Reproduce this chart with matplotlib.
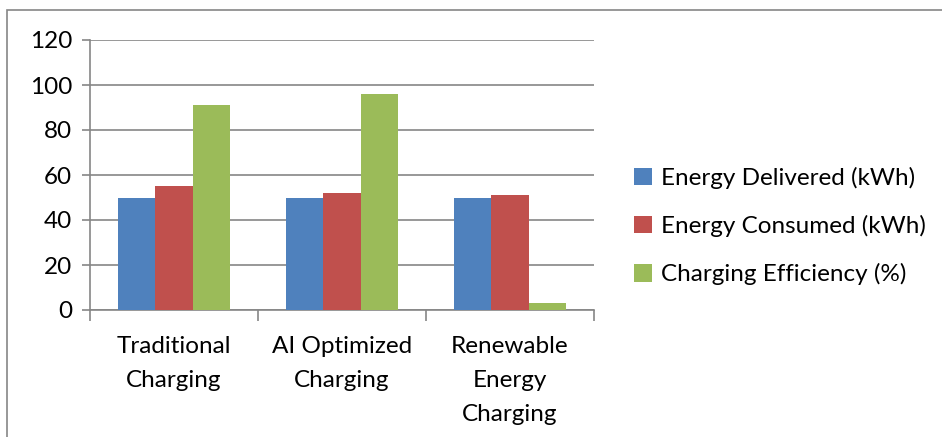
import numpy as np
import matplotlib.pyplot as plt
from matplotlib.patches import Rectangle

# data
categories = ["Traditional\nCharging", "AI Optimized\nCharging", "Renewable\nEnergy\nCharging"]
series_names = ["Energy Delivered (kWh)", "Energy Consumed (kWh)", "Charging Efficiency (%)"]
energy_delivered = [50, 50, 50]
energy_consumed = [55, 52, 51]
charging_efficiency = [91, 96, 3]
yticks = [0, 20, 40, 60, 80, 100, 120]

colors = ["#4F81BD", "#C0504D", "#9BBB59"]
grid_col = "#868686"

plt.rcParams['font.family'] = ['Lato', 'DejaVu Sans']

fig = plt.figure(figsize=(9.42, 4.37), dpi=100)
ax = fig.add_axes([90 / 942, 1 - 310 / 437, (594 - 90) / 942, 270 / 437])

# chart border (cut by the picture at right and bottom)
fig.patches.append(Rectangle((7 / 942, -0.2), 1.2, 1.2 - 10 / 437,
                             transform=fig.transFigure, fill=False,
                             edgecolor=grid_col, linewidth=1.2))

x = np.arange(len(categories))
w = 1 / 4.5
for i, vals in enumerate([energy_delivered, energy_consumed, charging_efficiency]):
    ax.bar(x + (i - 1) * w, vals, width=w, color=colors[i], label=series_names[i], zorder=3)

ax.set_xlim(-0.5, len(categories) - 0.5)
ax.set_ylim(0, 120)
ax.set_yticks(yticks)
ax.yaxis.grid(True, color=grid_col, linewidth=1.2, zorder=0)
ax.tick_params(axis='y', length=6, width=1.2, color=grid_col, labelsize=17.5, pad=7)

ax.set_xticks(x)
ax.set_xticklabels(categories, fontsize=17.5, linespacing=1.75)
ax.tick_params(axis='x', which='major', length=0, pad=19)
ax.set_xticks(np.arange(len(categories) + 1) - 0.5, minor=True)
ax.tick_params(axis='x', which='minor', length=8, width=1.2, color=grid_col)

for s in ['top', 'right']:
    ax.spines[s].set_visible(False)
for s in ['left', 'bottom']:
    ax.spines[s].set_color(grid_col)
    ax.spines[s].set_linewidth(1.2)

ax.legend(loc='center left', bbox_to_anchor=(634 / 942, 1 - 226 / 437),
          bbox_transform=fig.transFigure, frameon=False, fontsize=17.5,
          handlelength=0.75, handleheight=0.75, handletextpad=0.35, labelspacing=1.07,
          borderaxespad=0, borderpad=0)

fig.savefig("out.png", dpi=100)
